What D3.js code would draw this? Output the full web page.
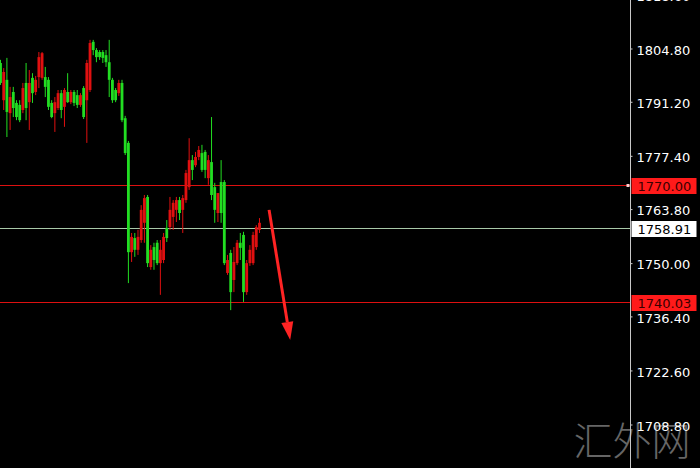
<!DOCTYPE html>
<html>
<head>
<meta charset="utf-8">
<script src="https://cdn.jsdelivr.net/npm/d3@7"></script>
<style>
  html, body { margin: 0; padding: 0; background: #000; }
  svg { display: block; }
</style>
</head>
<body>
<div class="chart"></div>
<script>
// candles, oldest first (red = up, green = down)
const opens  = [1801.1,1791.6,1796.8,1788.3,1793.7,1790.9,1790.4,1789.1,1796.0,1791.1,1797.3,1793.7,1797.5,1797.3,1797.5,1796.8,1790.9,1788.3,1789.6,1793.4,1789.9,1793.7,1791.1,1793.7,1792.9,1790.4,1794.7,1791.6,1794.2,1806.5,1804.4,1803.9,1803.9,1803.1,1801.3,1796.8,1794.2,1793.4,1796.0,1787.0,1780.7,1752.8,1756.4,1753.4,1755.9,1760.3,1766.9,1749.0,1754.1,1755.2,1750.0,1750.8,1759.0,1759.2,1761.8,1763.6,1766.1,1763.6,1766.1,1769.4,
                1776.3,1775.0,1777.1,1778.1,1778.4,1771.7,1775.8,1769.4,1762.8,1770.7,1770.7,1747.5,1752.6,1745.7,1750.0,1755.2,1757.2,1742.6,1750.0,1750.0,1754.1,1758.5];
const highs  = [1801.9,1799.8,1802.4,1795.0,1795.0,1791.6,1791.6,1796.0,1801.1,1799.3,1798.5,1797.8,1803.9,1803.9,1800.1,1797.5,1791.6,1792.4,1794.2,1794.2,1794.7,1798.5,1794.2,1794.2,1794.2,1793.4,1795.2,1801.9,1807.0,1807.0,1804.9,1804.4,1804.4,1804.4,1807.0,1797.3,1794.7,1796.8,1796.8,1787.6,1781.2,1757.7,1757.7,1758.5,1764.8,1767.4,1767.4,1754.6,1755.2,1755.9,1755.9,1757.7,1761.0,1766.9,1766.1,1766.9,1766.9,1767.4,1773.8,1781.9,
                1777.6,1778.4,1779.9,1780.2,1778.9,1777.6,1787.3,1770.5,1767.9,1776.3,1771.2,1752.1,1753.4,1754.1,1755.9,1757.7,1758.0,1750.8,1754.6,1758.0,1759.7,1761.5];
const lows   = [1795.5,1789.1,1782.2,1784.0,1787.3,1786.5,1786.0,1788.3,1786.5,1784.0,1790.9,1792.9,1794.7,1796.8,1792.4,1789.1,1787.0,1783.5,1789.1,1787.0,1784.8,1790.9,1790.6,1790.1,1789.6,1789.9,1786.8,1780.7,1793.7,1803.1,1801.3,1801.9,1801.1,1800.1,1792.4,1790.9,1791.1,1792.7,1786.0,1777.6,1744.9,1750.3,1751.6,1752.1,1755.2,1755.2,1749.0,1748.3,1748.3,1749.5,1741.9,1750.0,1755.4,1758.5,1758.5,1760.5,1761.0,1757.7,1765.4,1768.7,
                1771.2,1774.5,1776.3,1773.3,1771.7,1770.0,1766.1,1760.3,1760.5,1760.3,1749.5,1747.0,1738.0,1742.6,1749.5,1750.8,1740.1,1741.9,1749.3,1749.5,1753.4,1757.7];
const closes = [1796.0,1798.8,1788.6,1792.4,1789.6,1787.3,1786.5,1794.7,1789.6,1796.0,1793.4,1796.8,1802.6,1803.6,1795.0,1789.9,1787.3,1791.1,1793.4,1789.1,1794.2,1791.1,1793.7,1790.9,1790.4,1792.9,1787.3,1801.1,1806.2,1804.4,1802.6,1802.6,1802.4,1801.3,1796.8,1791.6,1791.6,1796.0,1786.5,1778.1,1752.8,1756.7,1753.4,1756.7,1763.6,1766.6,1750.0,1753.4,1750.8,1750.0,1753.4,1756.7,1756.4,1763.6,1765.4,1766.1,1762.8,1766.6,1773.0,1776.3,
                1773.8,1777.1,1778.9,1773.8,1773.8,1776.3,1767.4,1763.6,1767.9,1762.8,1750.0,1750.8,1742.6,1750.3,1755.2,1753.9,1742.6,1750.0,1753.4,1757.2,1759.2,1760.3];

// price scale labels
const tickValues = [1818.60, 1804.80, 1791.20, 1777.40, 1763.80, 1750.00, 1736.40, 1722.60, 1708.80];
// horizontal levels
const redLevels = [1770.00, 1740.03];
const lastPrice = 1758.91;
// forecast arrow (bar index, price)
const arrowFrom = [84.0, 1763.6];
const arrowTo = [90.6, 1730.4];

const W = 700, H = 468;
const axisX = 630.5;

const svg = d3.select(".chart").append("svg")
    .attr("width", W)
    .attr("height", H)
    .style("background", "#000");

const y = d3.scaleLinear()
    .domain([1708.8, 1804.8])
    .range([424.5, 48.5]);

const x = d3.scaleBand()
    .domain(d3.range(opens.length))
    .range([-0.9, 260.9])
    .paddingInner(0.12);

const xc = i => x(i) + x.bandwidth() / 2;
const xLin = d3.scaleLinear()
    .domain([0, opens.length - 1])
    .range([xc(0), xc(opens.length - 1)]);

// watermark
svg.append("text")
    .attr("x", 632)
    .attr("y", 455)
    .attr("text-anchor", "middle")
    .attr("font-family", "'Noto Sans CJK SC'")
    .attr("font-weight", 300)
    .attr("font-size", 39)
    .attr("fill", "#666666")
    .text("汇外网");

// level lines
svg.selectAll(".lvl")
    .data(redLevels)
    .enter()
    .append("line")
    .attr("class", "lvl")
    .attr("x1", 0)
    .attr("x2", axisX)
    .attr("y1", d => Math.round(y(d)) + 0.5)
    .attr("y2", d => Math.round(y(d)) + 0.5)
    .attr("stroke", "#dd1010")
    .attr("stroke-width", 1);

svg.append("line")
    .attr("x1", 0)
    .attr("x2", axisX)
    .attr("y1", Math.round(y(lastPrice)) + 0.5)
    .attr("y2", Math.round(y(lastPrice)) + 0.5)
    .attr("stroke", "#a8c8a8")
    .attr("stroke-width", 1);

// candles
const idx = d3.range(opens.length);
const col = i => closes[i] >= opens[i] ? "#e01010" : "#22dd22";

svg.selectAll(".wick")
    .data(idx)
    .enter()
    .append("line")
    .attr("class", "wick")
    .attr("x1", xc)
    .attr("x2", xc)
    .attr("y1", i => y(highs[i]))
    .attr("y2", i => y(lows[i]))
    .attr("stroke", col)
    .attr("stroke-width", 1);

svg.selectAll(".body")
    .data(idx)
    .enter()
    .append("rect")
    .attr("class", "body")
    .attr("x", i => x(i))
    .attr("width", x.bandwidth())
    .attr("y", i => y(Math.max(opens[i], closes[i])))
    .attr("height", i => Math.max(1, Math.abs(y(opens[i]) - y(closes[i]))))
    .attr("fill", col);

// arrow
const ax1 = xLin(arrowFrom[0]), ay1 = y(arrowFrom[1]);
const ax2 = xLin(arrowTo[0]), ay2 = y(arrowTo[1]);
const ang = Math.atan2(ay2 - ay1, ax2 - ax1);
const headLen = 18, headW = 6;
const bx = ax2 - headLen * Math.cos(ang), by = ay2 - headLen * Math.sin(ang);
svg.append("line")
    .attr("x1", ax1).attr("y1", ay1)
    .attr("x2", bx).attr("y2", by)
    .attr("stroke", "#ff2424")
    .attr("stroke-width", 3);
svg.append("path")
    .attr("d", d3.line()([
        [ax2, ay2],
        [bx + headW * Math.sin(ang), by - headW * Math.cos(ang)],
        [bx - headW * Math.sin(ang), by + headW * Math.cos(ang)]
    ]) + "Z")
    .attr("fill", "#ff2424");

// price axis
svg.append("line")
    .attr("x1", axisX).attr("x2", axisX)
    .attr("y1", 0).attr("y2", H)
    .attr("stroke", "#c8c8c8");

const yAxis = d3.axisRight(y)
    .tickValues(tickValues)
    .tickSize(2)
    .tickPadding(4)
    .tickFormat(d3.format(".2f"));

const gAxis = svg.append("g")
    .attr("transform", `translate(${axisX},0)`)
    .call(yAxis);
gAxis.select(".domain").remove();
gAxis.selectAll("line").attr("stroke", "#c8c8c8");
gAxis.selectAll("text")
    .attr("fill", "#ffffff")
    .attr("dy", "0.45em")
    .attr("font-family", "'DejaVu Sans'")
    .attr("font-size", 13);

// price boxes on the axis
const boxes = [
    {v: redLevels[0], bg: "#ff1a1a", fg: "#3a0000"},
    {v: lastPrice, bg: "#ffffff", fg: "#000000"},
    {v: redLevels[1], bg: "#ff1a1a", fg: "#3a0000"}
];
const gb = svg.selectAll(".pbox")
    .data(boxes)
    .enter()
    .append("g")
    .attr("class", "pbox")
    .attr("transform", d => `translate(${axisX + 1},${Math.round(y(d.v)) + 1})`);
gb.append("rect")
    .attr("x", 0)
    .attr("y", -8)
    .attr("width", 65)
    .attr("height", 16)
    .attr("fill", d => d.bg);
gb.append("text")
    .attr("x", 6)
    .attr("y", 0)
    .attr("dy", "0.37em")
    .attr("font-family", "'DejaVu Sans'")
    .attr("font-size", 13)
    .attr("fill", d => d.fg)
    .text(d => d.v.toFixed(2));

// small marker left of the axis at the upper level
svg.append("rect")
    .attr("x", axisX - 4)
    .attr("y", Math.round(y(redLevels[0])) - 1)
    .attr("width", 3)
    .attr("height", 3)
    .attr("fill", "#ffd0d0");
</script>
</body>
</html>
